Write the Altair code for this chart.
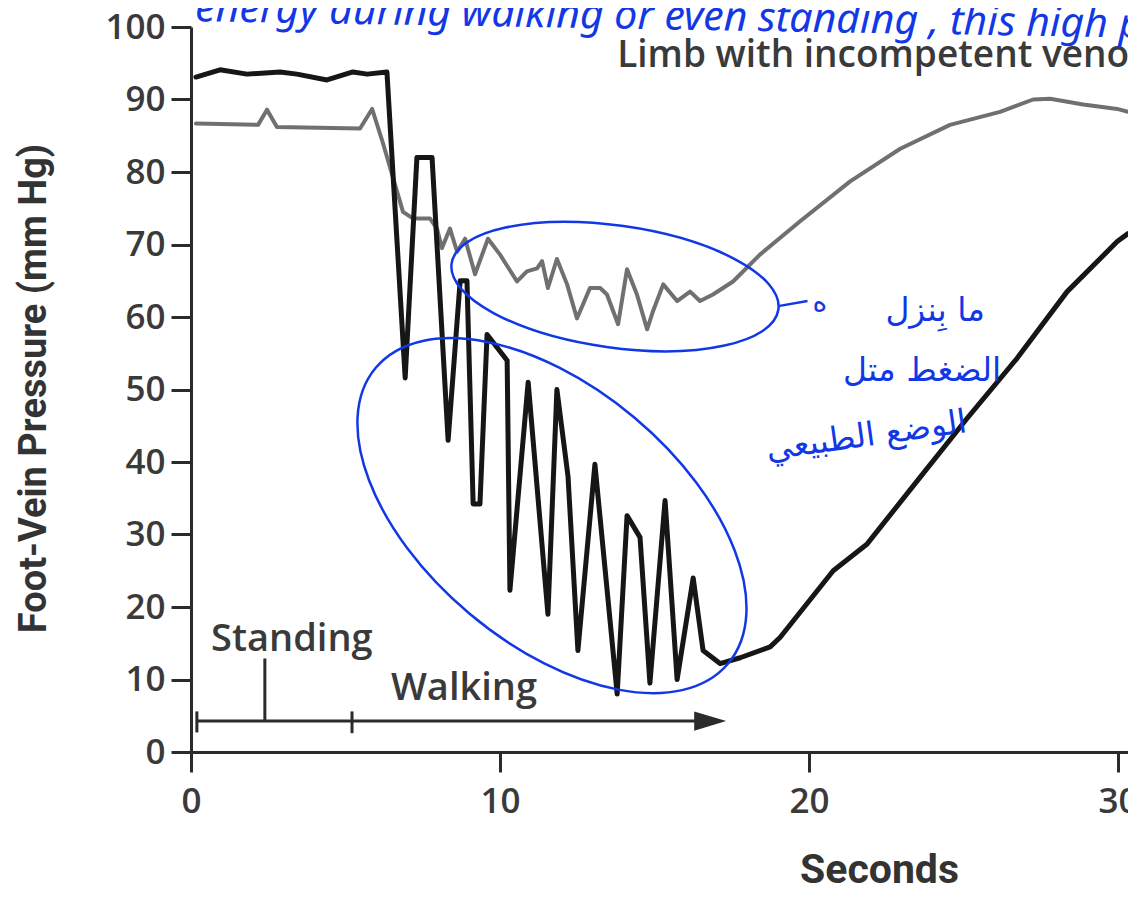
import altair as alt
import pandas as pd

# ---- data ----
black_t = [0.16, 0.94, 1.81, 2.88, 3.43, 4.40, 5.24, 5.70, 6.34, 6.93,
           7.31, 7.80, 8.32, 8.71, 8.93, 9.13, 9.35, 9.58, 10.23, 10.32,
           10.91, 11.55, 11.84, 12.20, 12.52, 13.07, 13.79, 14.11, 14.53, 14.85,
           15.34, 15.73, 16.25, 16.57, 17.12, 17.77, 18.74, 19.06, 20.78, 21.88,
           23.50, 25.11, 26.73, 28.35, 29.97, 30.32]
black_v = [93.1, 94.1, 93.5, 93.8, 93.5, 92.7, 93.8, 93.5, 93.8, 51.6,
           82.0, 82.0, 43.0, 65.0, 65.0, 34.2, 34.2, 57.6, 54.0, 22.3,
           51.0, 19.0, 50.0, 38.0, 14.0, 39.7, 8.0, 32.6, 29.6, 9.5,
           34.7, 10.0, 24.0, 14.0, 12.2, 13.0, 14.5, 15.8, 25.0, 28.7,
           37.4, 46.0, 54.3, 63.5, 70.4, 71.5]

grey_t = [0.16, 2.17, 2.46, 2.78, 5.47, 5.86, 6.21, 6.86, 7.18, 7.73,
          7.96, 8.12, 8.38, 8.61, 8.87, 9.19, 9.61, 10.00, 10.55, 10.87,
          11.20, 11.36, 11.55, 11.84, 12.17, 12.49, 12.91, 13.24, 13.46, 13.82,
          14.11, 14.43, 14.76, 14.95, 15.28, 15.73, 16.15, 16.47, 16.89, 17.54,
          18.41, 19.71, 21.33, 22.95, 24.56, 26.18, 27.25, 27.80, 28.87, 29.97,
          30.32]
grey_v = [86.7, 86.5, 88.6, 86.2, 86.0, 88.7, 84.0, 74.5, 73.6, 73.6,
          72.2, 69.5, 72.2, 69.0, 70.8, 65.9, 70.8, 68.6, 64.9, 66.3,
          66.7, 67.7, 64.0, 68.0, 64.5, 59.8, 64.0, 64.0, 63.1, 59.0,
          66.6, 63.1, 58.3, 60.8, 64.5, 62.2, 63.5, 62.2, 63.1, 64.9,
          68.6, 73.2, 78.7, 83.2, 86.5, 88.3, 90.0, 90.1, 89.3, 88.7,
          88.3]

x_ticks = [0, 10, 20, 30]
y_ticks = [0, 10, 20, 30, 40, 50, 60, 70, 80, 90, 100]

x_title = "Seconds"
y_title = "Foot-Vein Pressure (mm Hg)"
panel_title = "Limb with incompetent venous valves"
phase_labels = ["Standing", "Walking"]
note_top = "energy during walking or even standing , this high p"
note_ar = ["ما بِنزل", "الضغط متل", "الوضع الطبيعي"]
note_ar_angle = [0, 0, 352]

BLUE = "#1238e6"
DARK = "#2b2b2b"
FONT = "Open Sans"
TFONT = "Roboto"

W, H = 937, 725
xs = alt.Scale(domain=[0, 30.32], nice=False, zero=False)
ys = alt.Scale(domain=[0, 100], nice=False)

xaxis = alt.Axis(values=x_ticks, title=x_title, labelFlush=False,
                 titleX=688, titleY=130, titleAlign="center",
                 titleBaseline="alphabetic", titleFontSize=41)
yaxis = alt.Axis(values=y_ticks, title=y_title, titleAngle=270,
                 titleX=-146, titleY=361, titleAlign="center",
                 titleBaseline="alphabetic", titleFontSize=38)


def X(f="t"):
    return alt.X(f"{f}:Q", scale=xs, axis=xaxis)


def Y(f="v"):
    return alt.Y(f"{f}:Q", scale=ys, axis=yaxis)


black = pd.DataFrame({"t": black_t, "v": black_v})
grey = pd.DataFrame({"t": grey_t, "v": grey_v})

grey_line = alt.Chart(grey).mark_line(
    color="#707070", strokeWidth=4, strokeJoin="round", strokeCap="round"
).encode(x=X(), y=Y())

black_line = alt.Chart(black).mark_line(
    color="#161616", strokeWidth=5, strokeJoin="round", strokeCap="round"
).encode(x=X(), y=Y())

# timeline bar with ticks and arrow
tl = pd.DataFrame({"t": [0.19], "t2": [16.6], "v": [4.26]})
timeline = alt.Chart(tl).mark_rule(color=DARK, strokeWidth=3).encode(
    x=X(), x2="t2:Q", y=Y())

vt = pd.DataFrame({"t": [0.19, 5.21, 2.39], "v": [2.7, 2.6, 4.26],
                   "v2": [5.6, 5.6, 12.9]})
vticks = alt.Chart(vt).mark_rule(color=DARK, strokeWidth=3).encode(
    x=X(), y=Y(), y2="v2:Q")

arrow = alt.Chart(pd.DataFrame({"t": [16.8], "v": [4.26]})).mark_point(
    shape="M-1,-0.6 L1,0 L-1,0.6 Z", filled=True, size=1024, color=DARK,
    opacity=1
).encode(x=X(), y=Y())

phase = alt.Chart(pd.DataFrame({"t": [0.65, 6.47], "v": [14.0, 7.15],
                                "label": phase_labels})).mark_text(
    align="left", baseline="alphabetic", font=FONT, fontSize=38,
    fontWeight=600, color="#3a3a3a"
).encode(x=X(), y=Y(), text="label:N")

ptitle = alt.Chart(pd.DataFrame({"t": [13.79], "v": [94.5],
                                 "label": [panel_title]})).mark_text(
    align="left", baseline="alphabetic", font=FONT, fontSize=37,
    fontWeight=600, color="#3a3a3a", clip=True
).encode(x=X(), y=Y(), text="label:N")

# handwritten annotations
top_note = alt.Chart(pd.DataFrame({"t": [0.13], "v": [100.8],
                                   "label": [note_top]})).mark_text(
    align="left", baseline="alphabetic", font="Noto Sans", fontSize=41,
    fontStyle="italic", color=BLUE, angle=1
).encode(x=X(), y=Y(), text="label:N")

ar_note = alt.Chart(pd.DataFrame({"t": [24.08, 23.66, 21.9],
                                  "v": [59.4, 51.2, 42.2],
                                  "a": note_ar_angle,
                                  "label": note_ar})).mark_text(
    align="center", baseline="alphabetic", font="DejaVu Sans", fontSize=33,
    color=BLUE
).encode(x=X(), y=Y(), text="label:N",
         angle=alt.Angle("a:Q", scale=None))

k = 0.5523


def ellipse_path(r):
    return (f"M-1,0 C-1,{-k*r:.3f} {-k},{-r:.3f} 0,{-r:.3f} "
            f"C{k},{-r:.3f} 1,{-k*r:.3f} 1,0 "
            f"C1,{k*r:.3f} {k},{r:.3f} 0,{r:.3f} "
            f"C{-k},{r:.3f} -1,{k*r:.3f} -1,0 Z")


ell_up = alt.Chart(pd.DataFrame({"t": [13.72], "v": [64.2]})).mark_point(
    shape=ellipse_path(0.37), filled=False, size=108900, angle=8,
    color=BLUE, strokeWidth=2.5, opacity=1
).encode(x=X(), y=Y())

ell_low = alt.Chart(pd.DataFrame({"t": [11.68], "v": [32.6]})).mark_point(
    shape=ellipse_path(0.557), filled=False, size=211600, angle=40,
    color=BLUE, strokeWidth=2.5, opacity=1
).encode(x=X(), y=Y())

tail = alt.Chart(pd.DataFrame({"t": [19.0], "t2": [19.95], "v": [61.5],
                               "v2": [62.2]})).mark_rule(
    color=BLUE, strokeWidth=2.5
).encode(x=X(), x2="t2:Q", y=Y(), y2="v2:Q")

hook = alt.Chart(pd.DataFrame({"t": [20.35], "v": [60.8],
                               "label": ["ه"]})).mark_text(
    align="center", baseline="alphabetic", font="DejaVu Sans", fontSize=28,
    color=BLUE
).encode(x=X(), y=Y(), text="label:N")

chart = alt.layer(
    grey_line, black_line, timeline, vticks, arrow, phase, ptitle,
    ell_up, ell_low, tail, hook, ar_note, top_note
).properties(
    width=W, height=H,
    autosize=alt.AutoSizeParams(type="none"),
    padding={"left": 183, "top": 19, "right": 0, "bottom": 141},
    background="white",
).configure_view(
    stroke=None
).configure_axis(
    grid=False,
    domainColor=DARK, domainWidth=3,
    tickColor=DARK, tickWidth=3, tickSize=20,
    labelFont=FONT, labelFontSize=35, labelColor="#3a3a3a", labelFontWeight=600,
    labelPadding=6,
    titleFont=TFONT, titleFontWeight="bold",
    titleColor="#333333",
).configure_axisX(
    labelPadding=12
)

chart.save("out.html", embed_options={"renderer": "svg", "actions": False})
